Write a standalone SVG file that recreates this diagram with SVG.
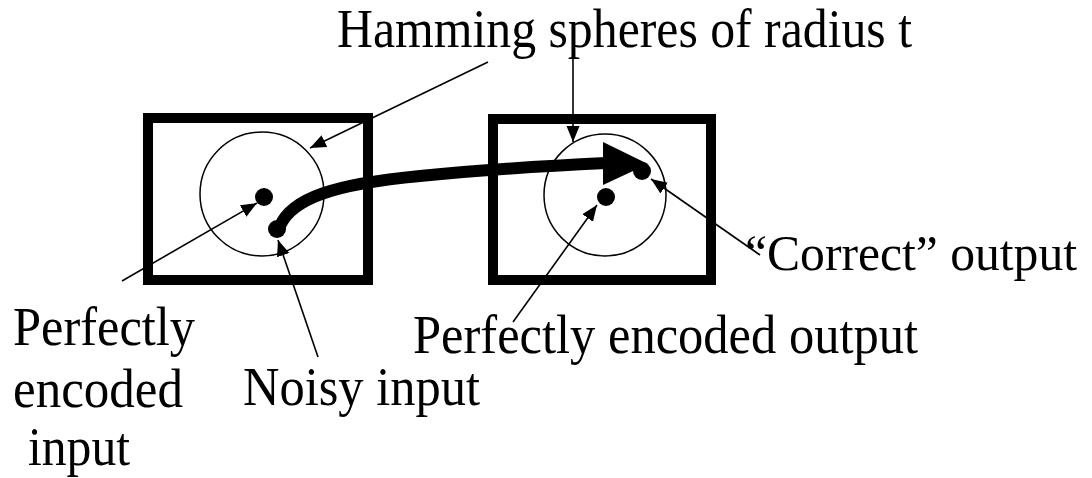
<svg xmlns="http://www.w3.org/2000/svg" width="1092" height="478" viewBox="0 0 1092 478">
<style>
.box{fill:none;stroke:#000;stroke-width:10}
.sphere{fill:none;stroke:#000;stroke-width:1.5}
.dot{fill:#000}
.lead{fill:none;stroke:#000;stroke-width:1.6}
.lbl{font-family:"Liberation Serif","Times New Roman",serif;font-size:54px;fill:#000}
</style>
<defs>
<marker id="ah" markerUnits="userSpaceOnUse" markerWidth="18" markerHeight="14" refX="16" refY="6.5" orient="auto">
<path d="M0,0 L16,6.5 L0,13 Z" fill="#000"/>
</marker>
</defs>
<rect width="1092" height="478" fill="#fff"/>
<g id="input-box">
<rect class="box" x="148" y="118" width="220" height="162"/>
<circle class="sphere" cx="262" cy="194" r="62"/>
</g>
<g id="output-box">
<rect class="box" x="493" y="119" width="218" height="161"/>
<circle class="sphere" cx="605" cy="195" r="61"/>
</g>
<g id="perfect-input"><circle class="dot" cx="264" cy="197" r="9"/></g>
<g id="noisy-input"><circle class="dot" cx="277" cy="229" r="9"/></g>
<g id="perfect-output"><circle class="dot" cx="606" cy="197" r="9"/></g>
<g id="correct-output"><circle class="dot" cx="642" cy="171" r="9"/></g>
<g id="connectors">
<path d="M280,226 C292,198 335,184 420,176 Q500,168 606,163" fill="none" stroke="#000" stroke-width="12" stroke-linecap="round"/>
<polygon points="603,142 648,164 603,185" fill="#000"/>
<line class="lead" x1="488" y1="62" x2="310" y2="148" marker-end="url(#ah)"/>
<line class="lead" x1="573" y1="55" x2="573" y2="142" marker-end="url(#ah)"/>
<line class="lead" x1="122" y1="281" x2="257" y2="203" marker-end="url(#ah)"/>
<line class="lead" x1="318" y1="357" x2="278" y2="240" marker-end="url(#ah)"/>
<line class="lead" x1="513" y1="322" x2="597" y2="205" marker-end="url(#ah)"/>
<line class="lead" x1="760" y1="255" x2="651" y2="179" marker-end="url(#ah)"/>
</g>
<g id="labels">
<text class="lbl" x="337" y="47" textLength="575" lengthAdjust="spacingAndGlyphs">Hamming spheres of radius t</text>
<text class="lbl" x="13" y="345" textLength="182" lengthAdjust="spacingAndGlyphs">Perfectly</text>
<text class="lbl" x="13" y="407" textLength="170" lengthAdjust="spacingAndGlyphs">encoded</text>
<text class="lbl" x="28" y="465" textLength="102" lengthAdjust="spacingAndGlyphs">input</text>
<text class="lbl" x="243" y="405" textLength="237" lengthAdjust="spacingAndGlyphs">Noisy input</text>
<text class="lbl" x="413" y="353" textLength="505" lengthAdjust="spacingAndGlyphs">Perfectly encoded output</text>
<text class="lbl" x="745" y="270" style="font-size:50px" textLength="332" lengthAdjust="spacingAndGlyphs">“Correct” output</text>
</g>
</svg>
